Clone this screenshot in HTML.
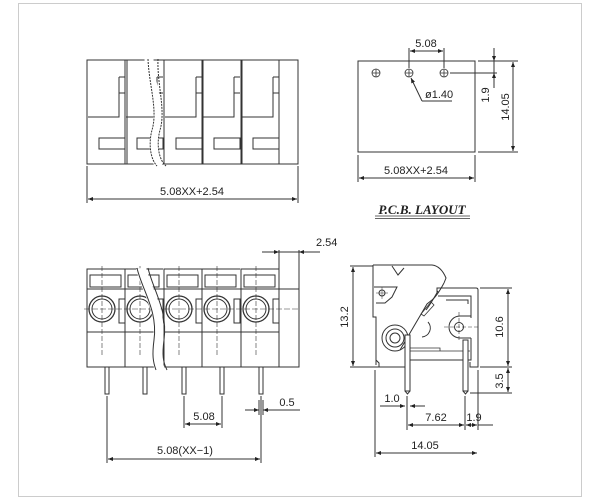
<!DOCTYPE html>
<html><head><meta charset="utf-8"><style>
html,body{margin:0;padding:0;background:#fff;width:600px;height:500px;overflow:hidden}
svg{display:block}
text{font-family:"Liberation Sans",sans-serif;font-size:11px;fill:#222}
</style></head><body>
<svg width="600" height="500" viewBox="0 0 600 500" xmlns="http://www.w3.org/2000/svg">
<defs>
<marker id="a" viewBox="0 0 10 10" refX="10" refY="5" markerWidth="7" markerHeight="5" orient="auto-start-reverse"><path d="M0,1 L10,5 L0,9z" fill="#222"/></marker>
</defs>
<rect x="18.5" y="3.5" width="563" height="493" fill="none" stroke="#ccc" stroke-width="1"/>
<g stroke="#333" stroke-width="1" fill="none">
<!-- TOP VIEW -->
<rect x="87" y="60" width="211" height="104"/>
<line x1="125" y1="60" x2="125" y2="164"/><line x1="127" y1="60" x2="127" y2="164"/>
<line x1="164" y1="60" x2="164" y2="164"/><line x1="202" y1="60" x2="202" y2="164"/>
<line x1="203" y1="60" x2="203" y2="164"/><line x1="241" y1="60" x2="241" y2="164"/>
<line x1="242" y1="60" x2="242" y2="164"/><line x1="279" y1="60" x2="279" y2="164"/>
<g id="cellT">
<path d="M119,77 h6 M119,77 v40 H88 M119,93 h6"/>
<rect x="99" y="138" width="26" height="11"/>
</g>
<use href="#cellT" transform="translate(38,0)"/>
<use href="#cellT" transform="translate(77,0)"/>
<use href="#cellT" transform="translate(115,0)"/>
<use href="#cellT" transform="translate(154,0)"/>
<path d="M128,117 h25" />
<path d="M149,59 C150,85 162,110 156,130 C152,145 155,160 160,166" stroke="#fff" stroke-width="9"/>
<path d="M148,59 C149,85 158,110 152,130 C148,145 151,160 157,166" stroke-dasharray="2,1"/>
<path d="M158,59 C157,85 166,110 160,130 C156,145 159,160 166,166" stroke-dasharray="2,1"/>
<line x1="87" y1="166" x2="87" y2="203"/><line x1="298" y1="166" x2="298" y2="203"/>
<line x1="88" y1="199" x2="297" y2="199" marker-start="url(#a)" marker-end="url(#a)"/>
<!-- PCB -->
<rect x="358" y="61" width="117" height="91"/>
<g stroke-width="0.8">
<circle cx="376" cy="73" r="4"/><path d="M372,73h8M376,69v8"/>
<circle cx="409" cy="73" r="4"/><path d="M405,73h8M409,69v8"/>
<circle cx="444" cy="73" r="4"/><path d="M440,73h8M444,69v8"/>
</g>
<path d="M409,48v20M444,48v20"/>
<line x1="410" y1="51" x2="443" y2="51" marker-start="url(#a)" marker-end="url(#a)"/>
<path d="M422,101 L411,78" marker-end="url(#a)"/><path d="M422,101H452"/>
<path d="M478,61H518M478,152H518M450,73H497"/>
<line x1="513" y1="62" x2="513" y2="151" marker-start="url(#a)" marker-end="url(#a)"/>
<line x1="494" y1="48" x2="494" y2="61" marker-end="url(#a)"/>
<line x1="494" y1="88" x2="494" y2="73" marker-end="url(#a)"/>
<line x1="494" y1="61" x2="494" y2="73"/>
<path d="M358,155V182M475,155V182"/>
<line x1="359" y1="178" x2="474" y2="178" marker-start="url(#a)" marker-end="url(#a)"/>
<path d="M375,216H470M375,218.5H470" stroke-width="0.8"/>
<!-- FRONT VIEW -->
<rect x="87" y="289" width="212" height="78"/>
<line x1="87" y1="332" x2="279" y2="332"/>
<line x1="125" y1="269" x2="125" y2="367"/><line x1="164" y1="269" x2="164" y2="367"/>
<line x1="202" y1="269" x2="202" y2="367"/><line x1="241" y1="269" x2="241" y2="367"/>
<line x1="279" y1="250" x2="279" y2="367"/><line x1="299" y1="250" x2="299" y2="289"/>
<g id="cellF">
<path d="M87,289V269H125"/>
<rect x="90" y="275" width="31" height="12"/>
<circle cx="102" cy="309" r="13" stroke-width="1.3"/>
<circle cx="102" cy="309" r="10"/>
<rect x="119" y="299" width="6" height="24"/>
<path d="M102,266V355" stroke-dasharray="5,2" stroke-width="0.6"/>
<rect x="105" y="367" width="4" height="27" fill="#fff"/>
</g>
<use href="#cellF" transform="translate(38,0)"/>
<use href="#cellF" transform="translate(77,0)"/>
<use href="#cellF" transform="translate(115,0)"/>
<use href="#cellF" transform="translate(154,0)"/>
<path d="M84,309H300" stroke-dasharray="6,2" stroke-width="0.6"/>
<path d="M141,268 C146,290 162,310 158,340 C156,355 157,362 160,370" stroke="#fff" stroke-width="10"/>
<path d="M137,268 C142,290 158,310 154,340 C152,355 153,362 156,370"/>
<path d="M148,268 C153,290 168,310 164,340 C162,355 163,362 167,370"/>
<line x1="262" y1="252" x2="279" y2="252" marker-end="url(#a)"/>
<line x1="320" y1="252" x2="299" y2="252" marker-end="url(#a)"/>
<line x1="279" y1="252" x2="299" y2="252"/>
<path d="M184,396V428M222,396V428M107,396V463M261,396V463M259,400V415M263,400V415"/>
<line x1="185" y1="424" x2="221" y2="424" marker-start="url(#a)" marker-end="url(#a)"/>
<line x1="108" y1="459" x2="260" y2="459" marker-start="url(#a)" marker-end="url(#a)"/>
<line x1="245" y1="410" x2="259" y2="410" marker-end="url(#a)"/>
<line x1="300" y1="410" x2="263" y2="410" marker-end="url(#a)"/>
<!-- SIDE VIEW -->
<!-- left body outline -->
<path d="M373,265 H432 Q441,266 446,278 L444,283"/>
<path d="M373,265 V317 H376 V360 L379,363 V367 H405"/>
<path d="M376,360 V365"/>
<!-- lever -->
<path d="M444,283 Q437,296 432,300 L427,304 L400,350"/>
<path d="M438,291 Q430,305 426,310"/>
<path d="M392,266 L398,275 L404,268" />
<path d="M374,287 H397 L392,297 L385,303 H376"/>
<circle cx="382" cy="293" r="3"/><path d="M376,293h12M382,287v12" stroke-width="0.5"/>
<path d="M421,314 L431,302 L434,305 L424,316 Z" stroke-width="0.8"/>
<path d="M422,337 A9,9 0 0 0 428,322"/>
<circle cx="395" cy="338" r="13"/><circle cx="395" cy="338" r="9"/><circle cx="395" cy="338" r="5"/>
<!-- right body -->
<path d="M437,293 V288 H476 Q478,288 478,290 V367 H470 V362"/>
<path d="M438,296 H471 V318 M471,338 V360 H405"/>
<path d="M446,300 H468 V304"/>
<path d="M460,316 A11,11 0 1 0 460,338 M460,316 H471 M460,338 H471"/>
<circle cx="459" cy="327" r="4.5"/>
<path d="M444,327 H478 M459,312 V342" stroke-dasharray="4,2" stroke-width="0.6"/>
<path d="M405,351 H470" stroke-width="0.8"/><path d="M408,348 H440 V351" stroke-width="0.8"/>
<rect x="405" y="335" width="5" height="56" fill="#fff"/>
<rect x="463" y="340" width="5" height="51" fill="#fff"/>
<path d="M405,391 L407.5,394 L410,391 M463,391 L465.5,394 L468,391"/>
<path d="M350,266H373M350,367H380M480,288H512M480,367H512M470,393H512"/>
<line x1="353" y1="267" x2="353" y2="366" marker-start="url(#a)" marker-end="url(#a)"/>
<line x1="508" y1="289" x2="508" y2="366" marker-start="url(#a)" marker-end="url(#a)"/>
<line x1="508" y1="368" x2="508" y2="392" marker-start="url(#a)" marker-end="url(#a)"/>
<path d="M375,370V457M478,370V430M407,396V430M465,396V430"/>
<line x1="380" y1="406" x2="405" y2="406" marker-end="url(#a)"/>
<line x1="425" y1="406" x2="410" y2="406" marker-end="url(#a)"/>
<line x1="408" y1="425" x2="464" y2="425" marker-start="url(#a)" marker-end="url(#a)"/>
<line x1="466" y1="425" x2="477" y2="425" marker-start="url(#a)" marker-end="url(#a)"/>
<line x1="478" y1="425" x2="493" y2="425"/>
<line x1="376" y1="453" x2="477" y2="453" marker-start="url(#a)" marker-end="url(#a)"/>
</g>
<text x="192" y="195" text-anchor="middle">5.08XX+2.54</text>
<text x="426" y="47" text-anchor="middle">5.08</text>
<text x="425" y="98">ø1.40</text>
<text x="416" y="174" text-anchor="middle">5.08XX+2.54</text>
<text transform="translate(489,95) rotate(-90)" text-anchor="middle">1.9</text>
<text transform="translate(509,107) rotate(-90)" text-anchor="middle">14.05</text>
<text x="422" y="214" text-anchor="middle" style="font-family:'Liberation Serif',serif;font-style:italic;font-weight:bold;font-size:13px">P.C.B.  LAYOUT</text>
<text x="316" y="246">2.54</text>
<text x="204" y="420" text-anchor="middle">5.08</text>
<text x="287" y="406" text-anchor="middle">0.5</text>
<text x="185" y="454" text-anchor="middle">5.08(XX−1)</text>
<text transform="translate(348,317) rotate(-90)" text-anchor="middle">13.2</text>
<text transform="translate(503,327) rotate(-90)" text-anchor="middle">10.6</text>
<text transform="translate(503,381) rotate(-90)" text-anchor="middle">3.5</text>
<text x="392" y="402" text-anchor="middle">1.0</text>
<text x="436" y="421" text-anchor="middle">7.62</text>
<text x="474" y="421" text-anchor="middle">1.9</text>
<text x="425" y="449" text-anchor="middle">14.05</text>
</svg>
</body></html>
